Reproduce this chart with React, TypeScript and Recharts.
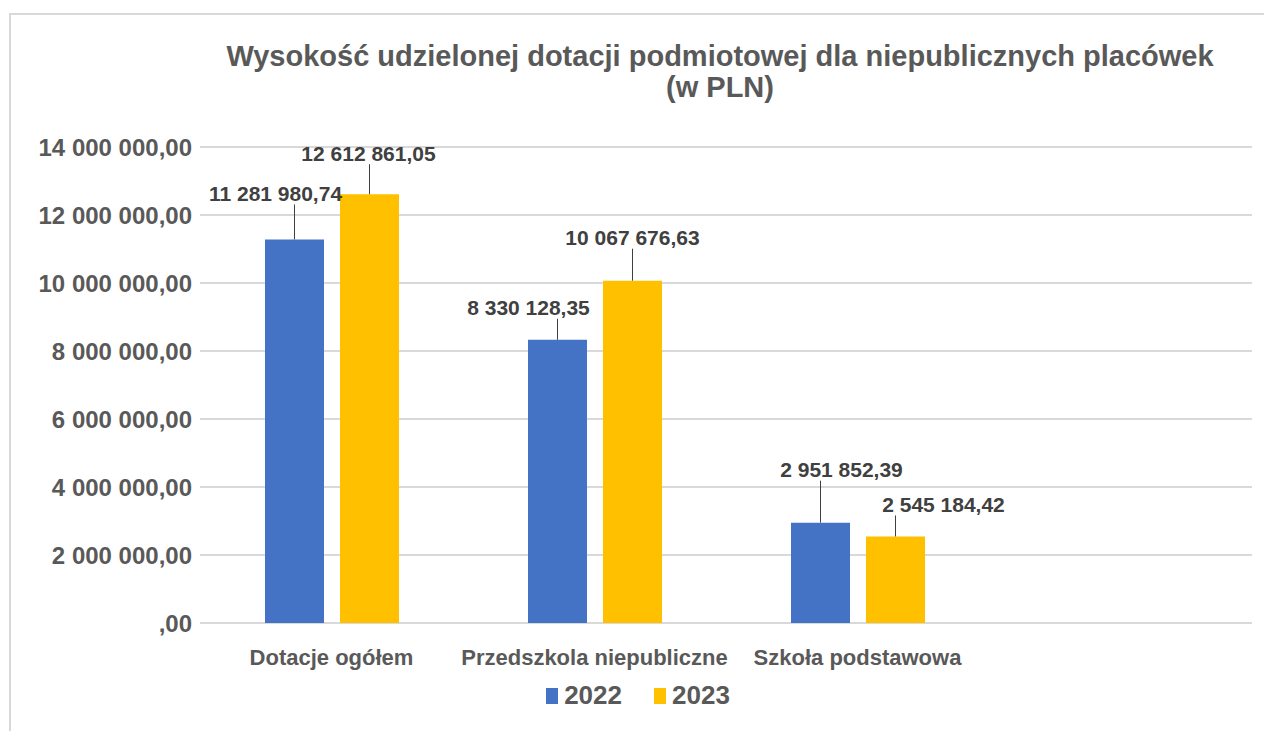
import React from 'react';
import { BarChart, Bar, XAxis, YAxis, CartesianGrid, Legend, LabelList } from 'recharts';

const CATEGORIES = ['Dotacje ogółem', 'Przedszkola niepubliczne', 'Szkoła podstawowa', ''];
const VALUES_2022 = [11281980.74, 8330128.35, 2951852.39, null];
const VALUES_2023 = [12612861.05, 10067676.63, 2545184.42, null];
const Y_TICKS = [0, 2000000, 4000000, 6000000, 8000000, 10000000, 12000000, 14000000];
const SERIES = [
    { key: 'y2022', name: '2022', color: '#4472C4' },
    { key: 'y2023', name: '2023', color: '#FFC000' },
];

// hand-placed callout labels (offset of text centre from the bar top)
const OFFSETS_2022 = [{ dx: -19, dy: -46 }, { dx: -29, dy: -32 }, { dx: 21, dy: -53 }];
const OFFSETS_2023 = [{ dx: -1, dy: -41 }, { dx: 0, dy: -43 }, { dx: 48, dy: -32 }];

const data = CATEGORIES.map((name, i) => ({
    name,
    y2022: VALUES_2022[i],
    y2023: VALUES_2023[i],
}));

function formatPl(v: number) {
    const [int, dec] = v.toFixed(2).split('.');
    const grouped = int.replace(/\B(?=(\d{3})+(?!\d))/g, ' ');
    return (grouped === '0' ? '' : grouped) + ',' + dec;
}

const FONT = '"Liberation Sans", Arial, sans-serif';

const makeCallout = (offsets) => (props) => {
    const { x, y, width, value, index } = props;
    if (value == null) return null;
    const off = offsets[index];
    const cx = x + width / 2;
    const ty = y + off.dy;
    return (
        <g>
            <line x1={cx} y1={y} x2={cx} y2={ty + 11} stroke="#404040" strokeWidth={1} />
            <text
                x={cx + off.dx}
                y={ty}
                textAnchor="middle"
                dominantBaseline="central"
                fill="#404040"
                fontFamily={FONT}
                fontWeight="bold"
                fontSize={21}
            >
                {formatPl(value)}
            </text>
        </g>
    );
};

const LegendContent = () => (
    <div style={{ display: 'flex', justifyContent: 'center', paddingLeft: 12, fontFamily: FONT }}>
        {SERIES.map((s) => (
            <div key={s.key} style={{ display: 'flex', alignItems: 'center', margin: '0 16px' }}>
                <span style={{ width: 12, height: 16, background: s.color, marginRight: 6 }} />
                <span style={{ fontSize: 26, fontWeight: 'bold', color: '#595959' }}>{s.name}</span>
            </div>
        ))}
    </div>
);

export default function App() {
    return (
        <div style={{ position: 'relative', width: 1264, height: 731, background: '#fff', overflow: 'hidden' }}>
            <style>{'body{margin:0;overflow:hidden}'}</style>
            <div
                style={{
                    position: 'absolute', left: 9, top: 13, width: 1255, height: 718, boxSizing: 'border-box',
                    borderTop: '2px solid #d9d9d9', borderLeft: '2px solid #d9d9d9',
                }}
            />
            <div
                style={{
                    position: 'absolute', left: 176, width: 1088, top: 41, textAlign: 'center',
                    fontFamily: FONT, fontWeight: 'bold', fontSize: 29, lineHeight: '31px', color: '#595959',
                }}
            >
                Wysokość udzielonej dotacji podmiotowej dla niepublicznych placówek
                <br />
                (w PLN)
            </div>
            <BarChart
                width={1264}
                height={731}
                data={data}
                margin={{ top: 147, right: 12, bottom: 48, left: 0 }}
                barSize={59}
                barGap={16}
                style={{ position: 'absolute', left: 0, top: 0 }}
            >
                <CartesianGrid vertical={false} stroke="#d9d9d9" strokeWidth={2} />
                <XAxis
                    dataKey="name"
                    interval={0}
                    tickLine={false}
                    axisLine={false}
                    height={60}
                    tickMargin={20}
                    tick={{ fill: '#595959', fontSize: 22, fontWeight: 'bold', fontFamily: FONT }}
                />
                <YAxis
                    width={200}
                    domain={[0, 14000000]}
                    ticks={Y_TICKS}
                    tickFormatter={formatPl}
                    tickLine={false}
                    axisLine={false}
                    tick={{ fill: '#595959', fontSize: 24, fontWeight: 'bold', fontFamily: FONT }}
                />
                <Legend
                    verticalAlign="middle"
                    align="center"
                    wrapperStyle={{ top: 680, left: 0, width: 1264 }}
                    content={<LegendContent />}
                />
                <Bar dataKey="y2022" name="2022" fill="#4472C4" isAnimationActive={false}>
                    <LabelList dataKey="y2022" content={makeCallout(OFFSETS_2022)} />
                </Bar>
                <Bar dataKey="y2023" name="2023" fill="#FFC000" isAnimationActive={false}>
                    <LabelList dataKey="y2023" content={makeCallout(OFFSETS_2023)} />
                </Bar>
            </BarChart>
        </div>
    );
}
